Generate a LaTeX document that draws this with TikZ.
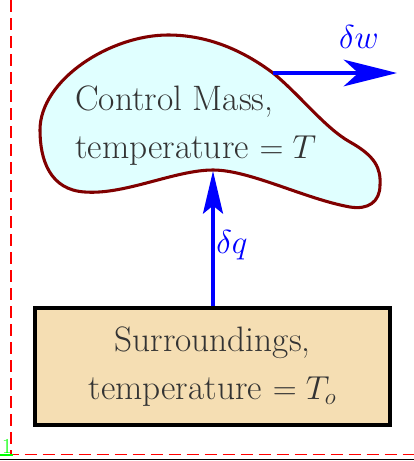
\documentclass[tikz,border=0pt]{standalone}
\usetikzlibrary{arrows.meta}
\definecolor{blobfill}{HTML}{E0FFFF}
\definecolor{blobline}{HTML}{800000}
\definecolor{boxfill}{HTML}{F5DEB3}
\definecolor{txt}{HTML}{333333}
\begin{document}
\begin{tikzpicture}[x=0.75pt,y=-0.75pt,
  bigtext/.style={font=\fontsize{26.5}{31.5}\selectfont, text=txt},
  flow/.style={draw=blue, line width=2.4pt},
  lbl/.style={text=blue, font=\fontsize{25}{30}\selectfont},
  frameline/.style={draw=red, line width=1.4pt, dash pattern=on 9pt off 4.5pt}]
\useasboundingbox (0,0) rectangle (414,461);
% frame artefacts
\draw[frameline] (11,0) -- (11,454.5) -- (414,454.5);
\draw[black, line width=0.8pt] (0,459.5) -- (414,459.5);
\node[text=green, font=\fontsize{16}{16}\selectfont, anchor=base, inner sep=0pt] (pg) at (7,453) {1};
\draw[green, line width=1.4pt] (0,455) -- (13,455);
% blob
\draw[fill=blobfill, draw=blobline, line width=2.3pt]
  (40,130) .. controls (40,80) and (110,35) .. (168,35)
  .. controls (210,35) and (245,52) .. (273,73)
  .. controls (300,95) and (325,128) .. (350,142)
  .. controls (375,156) and (381,168) .. (380,185)
  .. controls (380,202) and (368,210) .. (350,207)
  .. controls (305,199) and (250,170) .. (213,170)
  .. controls (175,170) and (125,195) .. (85,192)
  .. controls (50,190) and (40,160) .. cycle;
\coordinate (wstart) at (273,73);
\coordinate (wend) at (397,73);
\coordinate (qend) at (213,171);
\node[bigtext, align=left, anchor=base west, inner sep=0pt] (cm) at (75,158)
  {Control Mass,\\[4pt]temperature $=T$};
% surroundings
\node[draw=black, line width=2.3pt, fill=boxfill, minimum width=266.25pt, minimum height=87.75pt,
  bigtext, align=center, inner sep=0pt] (sur) at (212.5,366.5)
  {Surroundings,\\[4pt]temperature $=T_o$};
% arrows
\draw[flow, -{Stealth[length=32pt, width=15pt, inset=6pt]}] (sur.north -| qend) -- (qend);
\draw[flow, -{Stealth[length=40pt, width=20pt, inset=11pt]}] (wstart) -- (wend);
\node[lbl, anchor=west, inner sep=0pt] (q) at (216,245) {$\delta q$};
\node[lbl, anchor=center, inner sep=0pt] (w) at (359,37) {$\delta w$};
\end{tikzpicture}
\end{document}
